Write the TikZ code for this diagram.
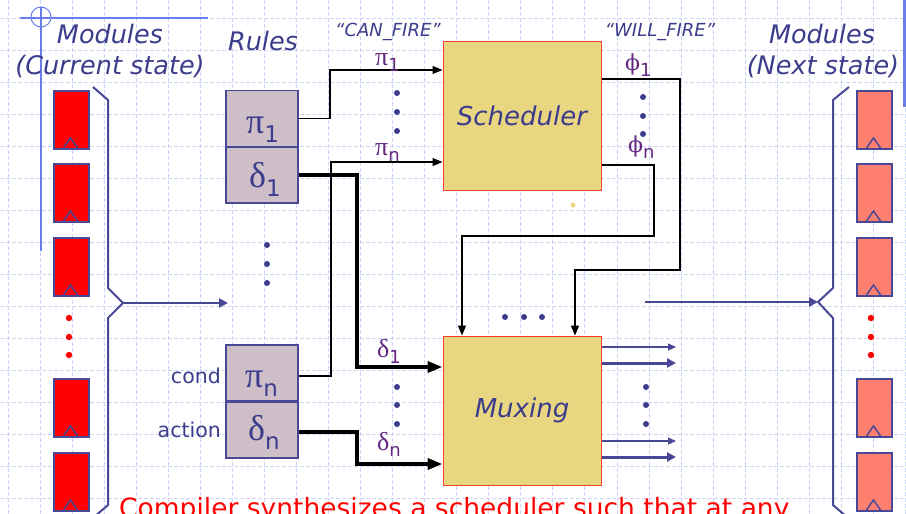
\documentclass[tikz,border=0pt]{standalone}
\usepackage{fontspec}
\setmainfont{DejaVu Sans}
\newfontfamily\gkfont{Liberation Serif}
\newfontfamily\phifont{DejaVu Serif}
\usetikzlibrary{arrows.meta}
\definecolor{txtblue}{RGB}{60,60,140}
\definecolor{bordblue}{RGB}{72,72,150}
\definecolor{gridblue}{RGB}{205,214,246}
\definecolor{crossblue}{RGB}{105,125,235}
\definecolor{modred}{RGB}{255,0,0}
\definecolor{modsalmon}{RGB}{255,127,112}
\definecolor{rulefill}{RGB}{205,190,200}
\definecolor{boxfill}{RGB}{233,214,128}
\definecolor{boxred}{RGB}{255,60,50}
\definecolor{lblpurple}{RGB}{100,40,130}
\newcommand{\fsz}[1]{\fontsize{#1}{#1}\selectfont}
\newcommand{\boxgk}[2]{{\gkfont\fsz{36}#1}{\fsz{23}\raisebox{-9pt}{#2}}}
\newcommand{\lblgk}[2]{{\gkfont\fsz{26}#1}{\fsz{18}\raisebox{-6pt}{#2}}}
\newcommand{\lblphi}[1]{{\phifont\fsz{22}ϕ}{\fsz{18}\raisebox{-6pt}{#1}}}
\tikzset{
  gridline/.style={gridblue, dash pattern=on 4pt off 2pt, line width=0.9pt},
  modbox/.style={draw=bordblue, line width=1.8pt, minimum width=35pt, minimum height=58pt, inner sep=0pt, anchor=north west},
  clk/.style={draw=bordblue, line width=1.5pt},
  rulebox/.style={draw=bordblue, line width=1.8pt, fill=rulefill, minimum width=72pt, minimum height=56pt, inner sep=0pt},
  bigbox/.style={draw=boxred, line width=1pt, fill=boxfill, minimum width=158pt, minimum height=149pt, inner sep=0pt, font=\fsz{26}\itshape, text=txtblue},
  wire/.style={draw=black, line width=1.3pt, -{Triangle[length=10pt,width=8pt]}},
  thickwire/.style={draw=black, line width=3.6pt, -{Triangle[length=15pt,width=11pt]}},
  bluewire/.style={draw=bordblue, line width=2.6pt, -{Triangle[length=9pt,width=9pt]}},
  outthin/.style={draw=bordblue, line width=1.3pt, -{Triangle[length=8pt,width=7pt]}},
  outthick/.style={draw=bordblue, line width=3pt, -{Triangle[length=9pt,width=9pt]}},
  brk/.style={draw=bordblue, line width=2pt},
  ttl/.style={text=txtblue, font=\fsz{25.5}\itshape, inner sep=0pt, anchor=base},
  smallttl/.style={text=txtblue, font=\fsz{18}\itshape, inner sep=0pt, anchor=base},
  gk/.style={text=txtblue, inner sep=0pt, anchor=base west},
  lbl/.style={text=lblpurple, inner sep=0pt, anchor=base west},
  side/.style={text=txtblue, font=\fsz{20.5}, inner sep=0pt, anchor=base east},
  bdot/.style={fill=txtblue},
  rdot/.style={fill=modred}
}
\begin{document}
\begin{tikzpicture}[x=1pt,y=-1pt]
\useasboundingbox (0,0) rectangle (906,514);
\fill[white] (0,0) rectangle (906,514);
% grid
\foreach \k in {0,...,28} \draw[gridline] ({8+32.05*\k},0) -- ({8+32.05*\k},514);
\foreach \k in {0,...,15} \draw[gridline] (0,{18+32.05*\k}) -- (906,{18+32.05*\k});
% crosshair decoration
\draw[crossblue, line width=1.3pt] (20,18) -- (208,18);
\draw[crossblue, line width=1.3pt] (41,7) -- (41,251);
\draw[crossblue, line width=1pt] (41,17) circle (10pt);
\draw[crossblue, line width=3pt] (904.5,0) -- (904.5,107);

% titles
\node[ttl] (tmodL) at (110,43) {Modules};
\node[ttl] (tcurL) at (110,74) {(Current state)};
\node[ttl] (trules) at (263,50) {Rules};
\node[ttl] (tmodR) at (822,43) {Modules};
\node[ttl] (tnextR) at (823,74) {(Next state)};
\node[smallttl] (tcan) at (388,36) {“CAN\_FIRE”};
\node[smallttl] (twill) at (660,36) {“WILL\_FIRE”};

% left modules
\foreach \t [count=\i] in {90,163,237,378,452} {
  \node[modbox, fill=modred] (lm\i) at (53,\t) {};
  \draw[clk] (63.5,\t+58) -- (70.5,\t+48) -- (77.5,\t+58);
}
% right modules
\foreach \t [count=\i] in {90,163,237,378,452} {
  \node[modbox, fill=modsalmon] (rm\i) at (856,\t) {};
  \draw[clk] (866.5,\t+58) -- (873.5,\t+48) -- (880.5,\t+58);
}
\foreach \y in {318,337,355} {
  \fill[rdot] (69,\y) circle (3.2pt);
  \fill[rdot] (871,\y) circle (3.2pt);
}

% brackets
\draw[brk] (93,87) -- (108,100) -- (108,288) -- (123,303) -- (108,318) -- (108,505) -- (93,518);
\draw[brk] (849,87) -- (833,100) -- (833,288) -- (818,302) -- (833,318) -- (833,505) -- (848,518);
\coordinate (lbr) at (123,303);
\coordinate (rulesin) at (228,303);
\coordinate (muxout) at (645,302);
\coordinate (rbr) at (818,302);
\draw[bluewire] (lbr) -- (rulesin);
\draw[bluewire] (muxout) -- (rbr);

% rule boxes
\node[rulebox] (p1) at (262,118.5) {};
\node[rulebox] (d1) at (262,175) {};
\node[rulebox] (pn) at (262,373) {};
\node[rulebox] (dn) at (262,430) {};
\node[gk] (tp1) at (246,133) {\boxgk{π}{1}};
\node[gk] (td1) at (249,187) {\boxgk{δ}{1}};
\node[gk] (tpn) at (245,387) {\boxgk{π}{n}};
\node[gk] (tdn) at (248,440) {\boxgk{δ}{n}};
\node[side] (tcond) at (221,383) {cond};
\node[side] (taction) at (221,437) {action};
\foreach \y in {245,264,283} \fill[bdot] (267,\y) circle (3pt);

% big boxes
\node[bigbox] (sched) at (522,115.5) {Scheduler};
\node[bigbox] (mux) at (522,410.5) {Muxing};
\fill[boxfill] (573,205) circle (2.5pt);

% rule -> scheduler
\draw[wire] (p1.east) -| (330,70) -- (sched.west |- 0,70);
\draw[wire] (pn.east |- 0,376) -| (331,162) -- (sched.west |- 0,162);
% rule -> muxing
\draw[thickwire] (d1.east) -| (357,367) -- (mux.west |- 0,367);
\draw[thickwire] (dn.east |- 0,432) -| (357,464) -- (mux.west |- 0,464);

% labels on rule wires
\node[lbl] (lp1) at (375,65) {\lblgk{π}{1}};
\node[lbl] (lpn) at (375,155) {\lblgk{π}{n}};
\node[lbl] (ld1) at (377,357) {\lblgk{δ}{1}};
\node[lbl] (ldn) at (377,450) {\lblgk{δ}{n}};
\foreach \y in {93,112,131,387,405,424} \fill[bdot] (397,\y) circle (3pt);

% scheduler -> muxing
\draw[wire] (sched.east |- 0,79) -| (680,270) -| (mux.north -| 575,0);
\draw[wire] (sched.east |- 0,165) -| (654,236) -| (mux.north -| 462,0);
\node[lbl] (lf1) at (625,70) {\lblphi{1}};
\node[lbl] (lfn) at (628,152) {\lblphi{n}};
\foreach \y in {97,116,134} \fill[bdot] (643,\y) circle (3pt);
\foreach \x in {505,524,542} \fill[bdot] (\x,317) circle (3pt);

% muxing outputs
\coordinate (o1) at (676,347);
\coordinate (o2) at (676,363);
\coordinate (o3) at (676,441);
\coordinate (o4) at (676,457);
\draw[outthin] (mux.east |- o1) -- (o1);
\draw[outthick] (mux.east |- o2) -- (o2);
\draw[outthin] (mux.east |- o3) -- (o3);
\draw[outthick] (mux.east |- o4) -- (o4);
\foreach \y in {387,405,424} \fill[bdot] (646,\y) circle (3pt);

% bottom text
\node[text=modred, font=\fsz{26.5}, inner sep=0pt, anchor=base west] (bottom) at (119,517) {Compiler synthesizes a scheduler such that at any};
\end{tikzpicture}
\end{document}
